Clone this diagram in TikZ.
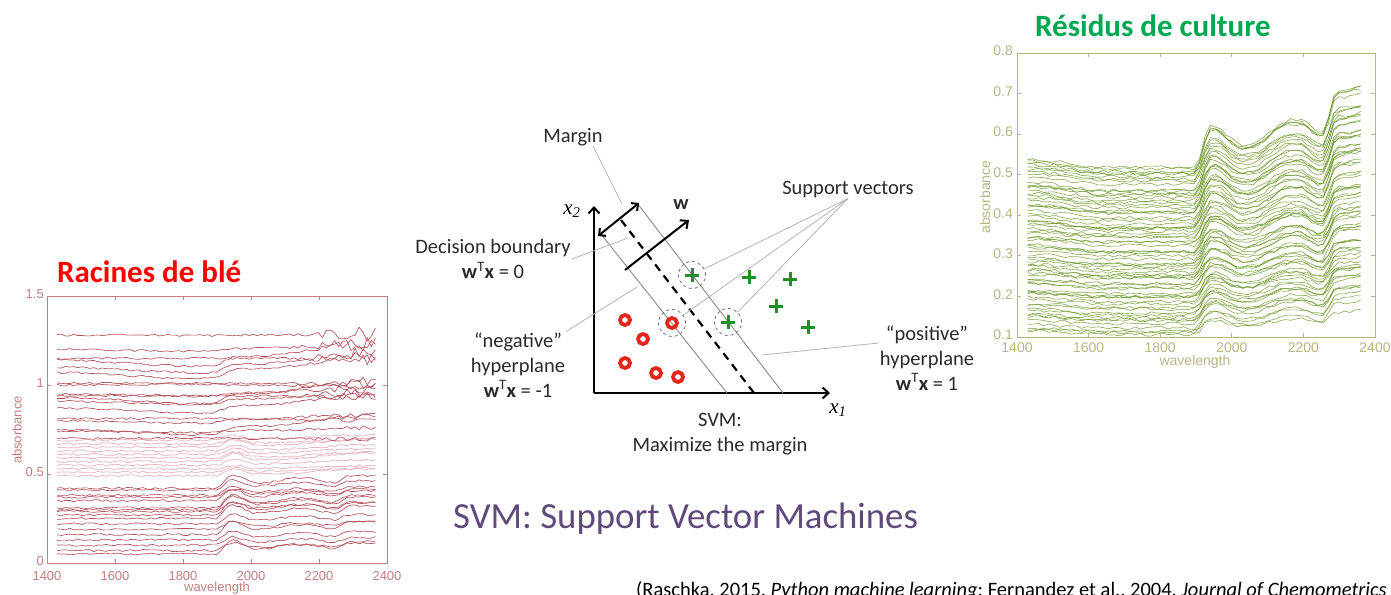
\documentclass[tikz,border=0pt]{standalone}
\usepackage{fontspec}
\setmainfont{Carlito}
\newfontfamily\plotfont{Liberation Sans}
\newfontfamily\axisfont{Liberation Serif}
\usepackage{tikz}
\usetikzlibrary{arrows.meta}

\begin{document}
\begin{tikzpicture}[x=1pt, y=-1pt,
    % spectral shapes (wavelength in nm -> absorbance offset)
    declare function={
      rmp(\w,\wa,\wb)=min(1,max(0,(\w-\wa)/(\wb-\wa)));
      sst(\w,\wa,\wb)=0.5-0.5*cos(180*rmp(\w,\wa,\wb));
      lowroot(\w)=0.075*sst(\w,1895,1945)-0.045*sst(\w,1945,2010)+0.025*sst(\w,2030,2140)-0.025*sst(\w,2170,2240)+0.04*sst(\w,2245,2290);
      midroot(\w)=0.04*sst(\w,1900,1945)-0.03*sst(\w,1950,2010)+0.03*sst(\w,2050,2350);
      uproot(\w)=-0.025*sst(\w,1430,1850)+0.04*sst(\w,1880,1960)+0.05*sst(\w,2000,2350);
      resid(\w)=-0.02*sst(\w,1430,1650)+0.1*sst(\w,1895,1942)-0.045*sst(\w,1948,2030)+0.06*sst(\w,2040,2170)-0.03*sst(\w,2190,2245)+0.1*sst(\w,2252,2295)+0.01*sst(\w,2300,2370);
    },
    titletext/.style={font=\fontsize{31}{36}\selectfont\bfseries, inner sep=0pt},
    rootcurve/.style={rootdark, line width=0.65pt, line join=round},
    pinkcurve/.style={rootpink, line width=0.7pt, line join=round},
    residcurve/.style={residline, line width=0.6pt, line join=round, opacity=0.8},
    rootframe/.style={rootaxis, line width=0.8pt},
    residframe/.style={residaxis, line width=0.8pt},
    roottick/.style={text=rootaxis, font=\plotfont\fontsize{13}{15}\selectfont, inner sep=1pt},
    residtick/.style={text=residaxis, font=\plotfont\fontsize{14}{16}\selectfont, inner sep=1pt},
    svmtext/.style={text=svmink, font=\fontsize{20.5}{25}\selectfont, align=center, inner sep=1pt},
    svmaxis/.style={-{Straight Barb[length=6pt, width=11pt]}, line width=2pt, black},
    svmarrow/.style={line width=2pt, black},
    hyper/.style={svmline, line width=0.9pt},
    boundary/.style={black, line width=2.2pt, dash pattern=on 8pt off 6pt},
    leader/.style={svmgray, line width=0.8pt},
    ring/.style={ptred, line width=3.8pt},
    plusmark/.style={ptgreen, line width=3pt},
    svring/.style={circle, draw=svmdash, dashed, line width=0.8pt, minimum size=27pt, inner sep=0pt},
    axlabel/.style={font=\axisfont\itshape\fontsize{21}{24}\selectfont, inner sep=1pt}
  ]

        % Color definitions
        \definecolor{titlered}{HTML}{FF0000}
        \definecolor{titlegreen}{HTML}{00A84F}
        \definecolor{rootdark}{HTML}{B4505A}
        \definecolor{rootpink}{HTML}{E6B2B9}
        \definecolor{rootaxis}{HTML}{C47E80}
        \definecolor{residline}{HTML}{6A9626}
        \definecolor{residaxis}{HTML}{B8B580}
        \definecolor{svmink}{HTML}{2A2A2A}
        \definecolor{svmline}{HTML}{8A8A8A}
        \definecolor{svmgray}{HTML}{B4B4B4}
        \definecolor{svmdash}{HTML}{6E7080}
        \definecolor{ptred}{HTML}{E3261A}
        \definecolor{ptgreen}{HTML}{1F8F2A}
        \definecolor{svmpurple}{HTML}{604A7B}

        \fill[white] (0,0) rectangle (1391,594);
        \useasboundingbox (0,0) rectangle (1391,594);

        % Shape templates, evaluated once per wavelength
        \gdef\lowtmpl{}\gdef\midtmpl{}\gdef\uptmpl{}\gdef\restmpl{}
        \foreach \w in {1442,1454,...,2366}{
            \pgfmathsetmacro\vlow{lowroot(\w)}
            \pgfmathsetmacro\vmid{midroot(\w)}
            \pgfmathsetmacro\vup{uproot(\w)}
            \pgfmathsetmacro\vnz{sst(\w,2080,2370)}
            \xdef\lowtmpl{\lowtmpl\ifx\lowtmpl\empty\else,\fi\w/\vlow}
            \xdef\midtmpl{\midtmpl\ifx\midtmpl\empty\else,\fi\w/\vmid}
            \xdef\uptmpl{\uptmpl\ifx\uptmpl\empty\else,\fi\w/\vup/\vnz}
        }
        \foreach \w in {1445,1460,...,2370}{
            \pgfmathsetmacro\vres{resid(\w)}
            \xdef\restmpl{\restmpl\ifx\restmpl\empty\else,\fi\w/\vres}
        }

        % === LEFT PLOT: wheat roots ===
        \node[titletext, text=titlered, anchor=base west] (roottitle) at (57,282) {Racines de blé};
        \pgfmathsetseed{11}
        % lower dark spectra
        \foreach \off in {0.05,0.07,0.10,0.13,0.16,0.19,0.22,0.25,0.27,0.29,0.30,0.31,0.35,0.37,0.38,0.41,0.42}{
            \pgfmathsetmacro\k{0.85+0.25*rand}
            \draw[rootcurve] (57.2,{563-178*(\off+0.006*rand)})
                \foreach \w/\s in \lowtmpl { -- ({47+0.34*(\w-1400)},{563-178*(\off+\k*(\s)+0.006*rand)}) };
        }
        % light middle spectra
        \foreach \off in {0.49,0.51,0.53,0.55,0.57,0.59,0.61,0.63,0.65,0.67,0.69}{
            \pgfmathsetmacro\k{0.8+0.4*rand}
            \draw[pinkcurve] (57.2,{563-178*(\off+0.006*rand)})
                \foreach \w/\s in \midtmpl { -- ({47+0.34*(\w-1400)},{563-178*(\off+\k*(\s)+0.006*rand)}) };
        }
        % upper dark spectra, noisy at long wavelengths
        \foreach \off in {0.70,0.74,0.75,0.80,0.81,0.87,0.91,0.93,0.94,0.95,1.00,1.01,1.07,1.10,1.14,1.15,1.20,1.28}{
            \pgfmathsetmacro\k{0.6+0.8*rand}
            \pgfmathsetmacro\nz{0.06*(\off-0.6)}
            \draw[rootcurve] (57.2,{563-178*(\off+0.006*rand)})
                \foreach \w/\s/\n in \uptmpl { -- ({47+0.34*(\w-1400)},{563-178*(\off+\k*(\s)+(0.006+\nz*\n)*rand)}) };
        }
        % frame and ticks
        \draw[rootframe] (47,296) rectangle (387,563);
        \foreach \wl in {1600,1800,2000,2200}{
            \draw[rootframe] ({47+0.34*(\wl-1400)},563) -- ++(0,-4) ({47+0.34*(\wl-1400)},296) -- ++(0,4);
        }
        \foreach \av in {0.5,1}{
            \draw[rootframe] (47,{563-178*\av}) -- ++(4,0) (387,{563-178*\av}) -- ++(-4,0);
        }
        \foreach \wl in {1400,1600,1800,2000,2200,2400}{
            \node[roottick] (rx\wl) at ({47+0.34*(\wl-1400)},576) {\wl};
        }
        \foreach \av/\lbl in {0/0,0.5/0.5,1/1,1.5/1.5}{
            \node[roottick, anchor=east] (ry\lbl) at (45,{561-178*\av}) {\lbl};
        }
        \node[roottick] (rootxlbl) at (217,588) {wavelength};
        \node[roottick, rotate=90] (rootylbl) at (17,430) {absorbance};

        % === RIGHT PLOT: crop residues ===
        \node[titletext, text=titlegreen, anchor=base west] (residtitle) at (1035,37) {Résidus de culture};
        \pgfmathsetseed{7}
        \foreach \i in {0,...,69}{
            \pgfmathsetmacro\off{0.115+0.425*\i/69+0.006*rand}
            \pgfmathsetmacro\k{0.4+1.45*(\off-0.12)+0.15*rand}
            \draw[residcurve] (1027.7,{337-406*(\off-0.1+0.004*rand)})
                \foreach \w/\s in \restmpl { -- ({1017+0.358*(\w-1400)},{337-406*(\off-0.1+\k*(\s)+0.004*rand)}) };
        }
        % frame and ticks
        \draw[residframe] (1017,53) rectangle (1375,337);
        \foreach \wl in {1600,1800,2000,2200}{
            \draw[residframe] ({1017+0.358*(\wl-1400)},337) -- ++(0,-4) ({1017+0.358*(\wl-1400)},53) -- ++(0,4);
        }
        \foreach \av in {0.2,0.3,0.4,0.5,0.6,0.7}{
            \draw[residframe] (1017,{337-406*(\av-0.1)}) -- ++(4,0) (1375,{337-406*(\av-0.1)}) -- ++(-4,0);
        }
        \foreach \wl in {1400,1600,1800,2000,2200,2400}{
            \node[residtick] (gx\wl) at ({1017+0.358*(\wl-1400)},348) {\wl};
        }
        \foreach \lbl [count=\j] in {0.1,0.2,0.3,0.4,0.5,0.6,0.7,0.8}{
            \node[residtick, anchor=east] (gy\j) at (1014,{335-406*(\lbl-0.1)}) {\lbl};
        }
        \node[residtick] (residxlbl) at (1195,362) {wavelength};
        \node[residtick, rotate=90] (residylbl) at (985,197) {absorbance};

        % === CENTER: SVM sketch ===
        \coordinate (orig) at (594,393);
        \coordinate (x1end) at (830,393);
        \coordinate (x2end) at (594,206);
        \draw[svmaxis] (orig) -- (x1end);
        \draw[svmaxis] (orig) -- (x2end);
        \node[axlabel] (x1lbl) at (838,410) {x\textsubscript{1}};
        \node[axlabel] (x2lbl) at (572,211) {x\textsubscript{2}};

        % hyperplanes
        \coordinate (negtop) at (601,234);
        \coordinate (negbot) at (727,393);
        \coordinate (dbtop) at (621,220);
        \coordinate (dbbot) at (754,393);
        \coordinate (postop) at (637,203);
        \coordinate (posbot) at (783,393);
        \draw[hyper] (negtop) -- (negbot);
        \draw[hyper] (postop) -- (posbot);
        \draw[boundary] (dbtop) -- (dbbot);

        % margin and weight vector
        \coordinate (mstart) at (598,236);
        \coordinate (mend) at (639,203);
        \draw[svmarrow, {Straight Barb[length=5pt, width=10pt]}-{Straight Barb[length=5pt, width=10pt]}] (mstart) -- (mend);
        \coordinate (wstart) at (625,270);
        \coordinate (wend) at (689,220);
        \draw[svmarrow, -{Straight Barb[length=6pt, width=11pt]}] (wstart) -- (wend);
        \node[svmtext, font=\fontsize{20.5}{25}\selectfont\bfseries] (wlbl) at (681,205) {w};

        % samples
        \foreach \px/\py in {625/320,643/339,672/323,625/363,656/373,678/377}{
            \draw[ring] (\px,\py) circle (5);
        }
        \foreach \px/\py in {692/275,749/277,790/279,776/306,808/327,728/322}{
            \draw[plusmark] (\px,\py) +(-7,0) -- +(7,0) +(0,-7) -- +(0,7);
        }
        \node[svring] (sv1) at (692,275) {};
        \node[svring] (sv2) at (672,323) {};
        \node[svring] (sv3) at (728,322) {};

        % labels
        \node[svmtext] (marginlbl) at (573,137) {Margin};
        \node[svmtext] (svlbl) at (848,189) {Support vectors};
        \node[svmtext] (dblbl) at (493,259) {Decision boundary\\\textbf{w}\textsuperscript{T}\textbf{x} = 0};
        \node[svmtext] (neglbl) at (518,365) {“negative”\\hyperplane\\\textbf{w}\textsuperscript{T}\textbf{x} = -1};
        \node[svmtext] (poslbl) at (927,358) {“positive”\\hyperplane\\\textbf{w}\textsuperscript{T}\textbf{x} = 1};
        \node[svmtext] (svmlbl) at (720,434) {SVM:\\Maximize the margin};

        % leader lines
        \coordinate (mfoot) at (593,146);
        \coordinate (mtip) at (622,204);
        \coordinate (dbtip) at (628,238);
        \coordinate (negtip) at (637,287);
        \coordinate (postip) at (762,355);
        \draw[leader] (mfoot) -- (mtip);
        \draw[leader] (dblbl.east) -- (dbtip);
        \draw[leader] (neglbl.north east) -- (negtip);
        \draw[leader] ([yshift=15pt]poslbl.west) -- (postip);
        \draw[leader] (svlbl.south) -- (sv1);
        \draw[leader] (svlbl.south) -- (sv2);
        \draw[leader] (svlbl.south) -- (sv3);

        % caption and reference
        \node[anchor=base west, inner sep=0pt, text=svmpurple, font=\fontsize{36.8}{40}\selectfont] (svmcaption) at (453,528) {SVM: Support Vector Machines};
        \node[anchor=base west, inner sep=0pt, text=black, font=\fontsize{20.5}{24}\selectfont] (refline) at (636,596) {(Raschka, 2015, \textit{Python machine learning}; Fernandez et al., 2004, \textit{Journal of Chemometrics}};

    \end{tikzpicture}
\end{document}
